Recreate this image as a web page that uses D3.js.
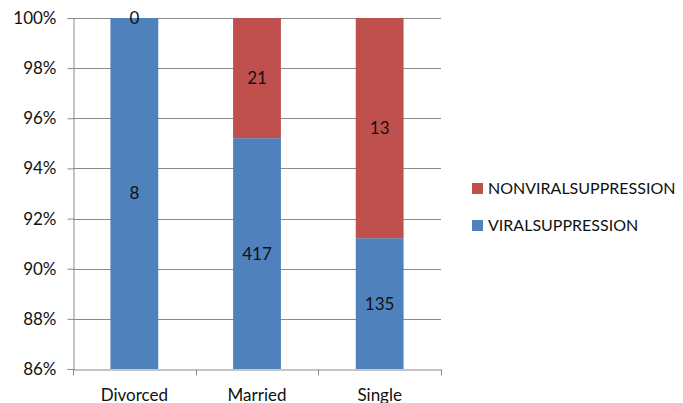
<!DOCTYPE html>
<html>
<head>
<meta charset="utf-8">
<script src="https://cdn.jsdelivr.net/npm/d3@7"></script>
<style>
  html, body { margin: 0; padding: 0; background: #fff; }
  svg { display: block; font-family: Lato, "Open Sans", sans-serif; }
</style>
</head>
<body>
<svg id="chart" width="683" height="403"></svg>
<script>
// Viral suppression counts by marital status
const categories = ["Divorced", "Married", "Single"];
const seriesNames = ["VIRALSUPPRESSION", "NONVIRALSUPPRESSION"];
const viralSuppression = [8, 417, 135];
const nonViralSuppression = [0, 21, 13];
const yTickValues = [0.86, 0.88, 0.90, 0.92, 0.94, 0.96, 0.98, 1.00];

const colors = { VIRALSUPPRESSION: "#4F81BD", NONVIRALSUPPRESSION: "#C0504D" };

const rows = categories.map((c, i) => ({
  category: c,
  VIRALSUPPRESSION: viralSuppression[i],
  NONVIRALSUPPRESSION: nonViralSuppression[i]
}));

const stacked = d3.stack().keys(seriesNames).offset(d3.stackOffsetExpand)(rows);

const svg = d3.select("#chart");
const plot = { left: 73, right: 441, top: 18, bottom: 369 };

const x = d3.scaleBand()
  .domain(categories)
  .range([plot.left, plot.right])
  .paddingInner(0.61)
  .paddingOuter(0.305);

const y = d3.scaleLinear()
  .domain([0.86, 1.0])
  .range([plot.bottom, plot.top])
  .clamp(true);

const gridColor = "#8a8a8a";

// Horizontal gridlines
svg.append("g")
  .selectAll("line")
  .data(yTickValues.slice(1))
  .join("line")
  .attr("x1", plot.left).attr("x2", plot.right)
  .attr("y1", d => Math.round(y(d)) + 0.5).attr("y2", d => Math.round(y(d)) + 0.5)
  .attr("stroke", gridColor).attr("stroke-width", 1);

// Stacked bars
const layers = svg.append("g").selectAll("g")
  .data(stacked)
  .join("g")
  .attr("fill", d => colors[d.key]);

layers.selectAll("rect")
  .data(d => d)
  .join("rect")
  .attr("x", d => x(d.data.category))
  .attr("width", x.bandwidth())
  .attr("y", d => y(d[1]))
  .attr("height", d => y(d[0]) - y(d[1]));

// Value labels centred on the visible part of each segment
const labels = svg.append("g")
  .attr("font-size", 17)
  .attr("fill", "#111")
  .attr("text-anchor", "middle");

stacked.forEach(layer => {
  layer.forEach(d => {
    labels.append("text")
      .attr("x", x(d.data.category) + x.bandwidth() / 2)
      .attr("y", (y(d[0]) + y(d[1])) / 2)
      .attr("dy", "0.35em")
      .text(d.data[layer.key]);
  });
});

// Y axis
const yAxis = d3.axisLeft(y)
  .tickValues(yTickValues)
  .tickFormat(d3.format(".0%"))
  .tickSize(6)
  .tickPadding(11);

const yg = svg.append("g")
  .attr("transform", `translate(${plot.left + 0.5},0)`)
  .call(yAxis);
yg.select(".domain").attr("stroke", gridColor);
yg.selectAll(".tick line").attr("stroke", gridColor);
yg.selectAll(".tick text")
  .attr("font-size", 17)
  .attr("font-family", "Lato, 'Open Sans', sans-serif")
  .attr("fill", "#111");

// X axis with separators between categories
const xAxis = d3.axisBottom(x).tickSize(0);
const xg = svg.append("g")
  .attr("transform", `translate(0,${plot.bottom + 0.5})`)
  .call(xAxis);
xg.select(".domain").attr("stroke", gridColor);
xg.selectAll(".tick text")
  .attr("y", 31)
  .attr("dy", 0)
  .attr("font-size", 17)
  .attr("font-family", "Lato, 'Open Sans', sans-serif")
  .attr("fill", "#111");

const step = x.step();
const separators = categories.map(c => x(c) - x.paddingInner() * step / 2)
  .concat([x(categories[categories.length - 1]) + x.bandwidth() + x.paddingInner() * step / 2]);
xg.selectAll("line.sep")
  .data(separators)
  .join("line")
  .attr("class", "sep")
  .attr("x1", d => Math.round(d) + 0.5).attr("x2", d => Math.round(d) + 0.5)
  .attr("y1", 0).attr("y2", 6)
  .attr("stroke", gridColor);

// Legend
const legend = svg.append("g").attr("transform", "translate(472,183)");
const legendItems = legend.selectAll("g")
  .data(seriesNames.slice().reverse())
  .join("g")
  .attr("transform", (d, i) => `translate(0,${i * 37})`);
legendItems.append("rect")
  .attr("width", 11).attr("height", 11)
  .attr("fill", d => colors[d]);
legendItems.append("text")
  .attr("x", 16).attr("y", 5.5)
  .attr("dy", "0.36em")
  .attr("font-size", 16)
  .attr("fill", "#111")
  .text(d => d);
</script>
</body>
</html>
